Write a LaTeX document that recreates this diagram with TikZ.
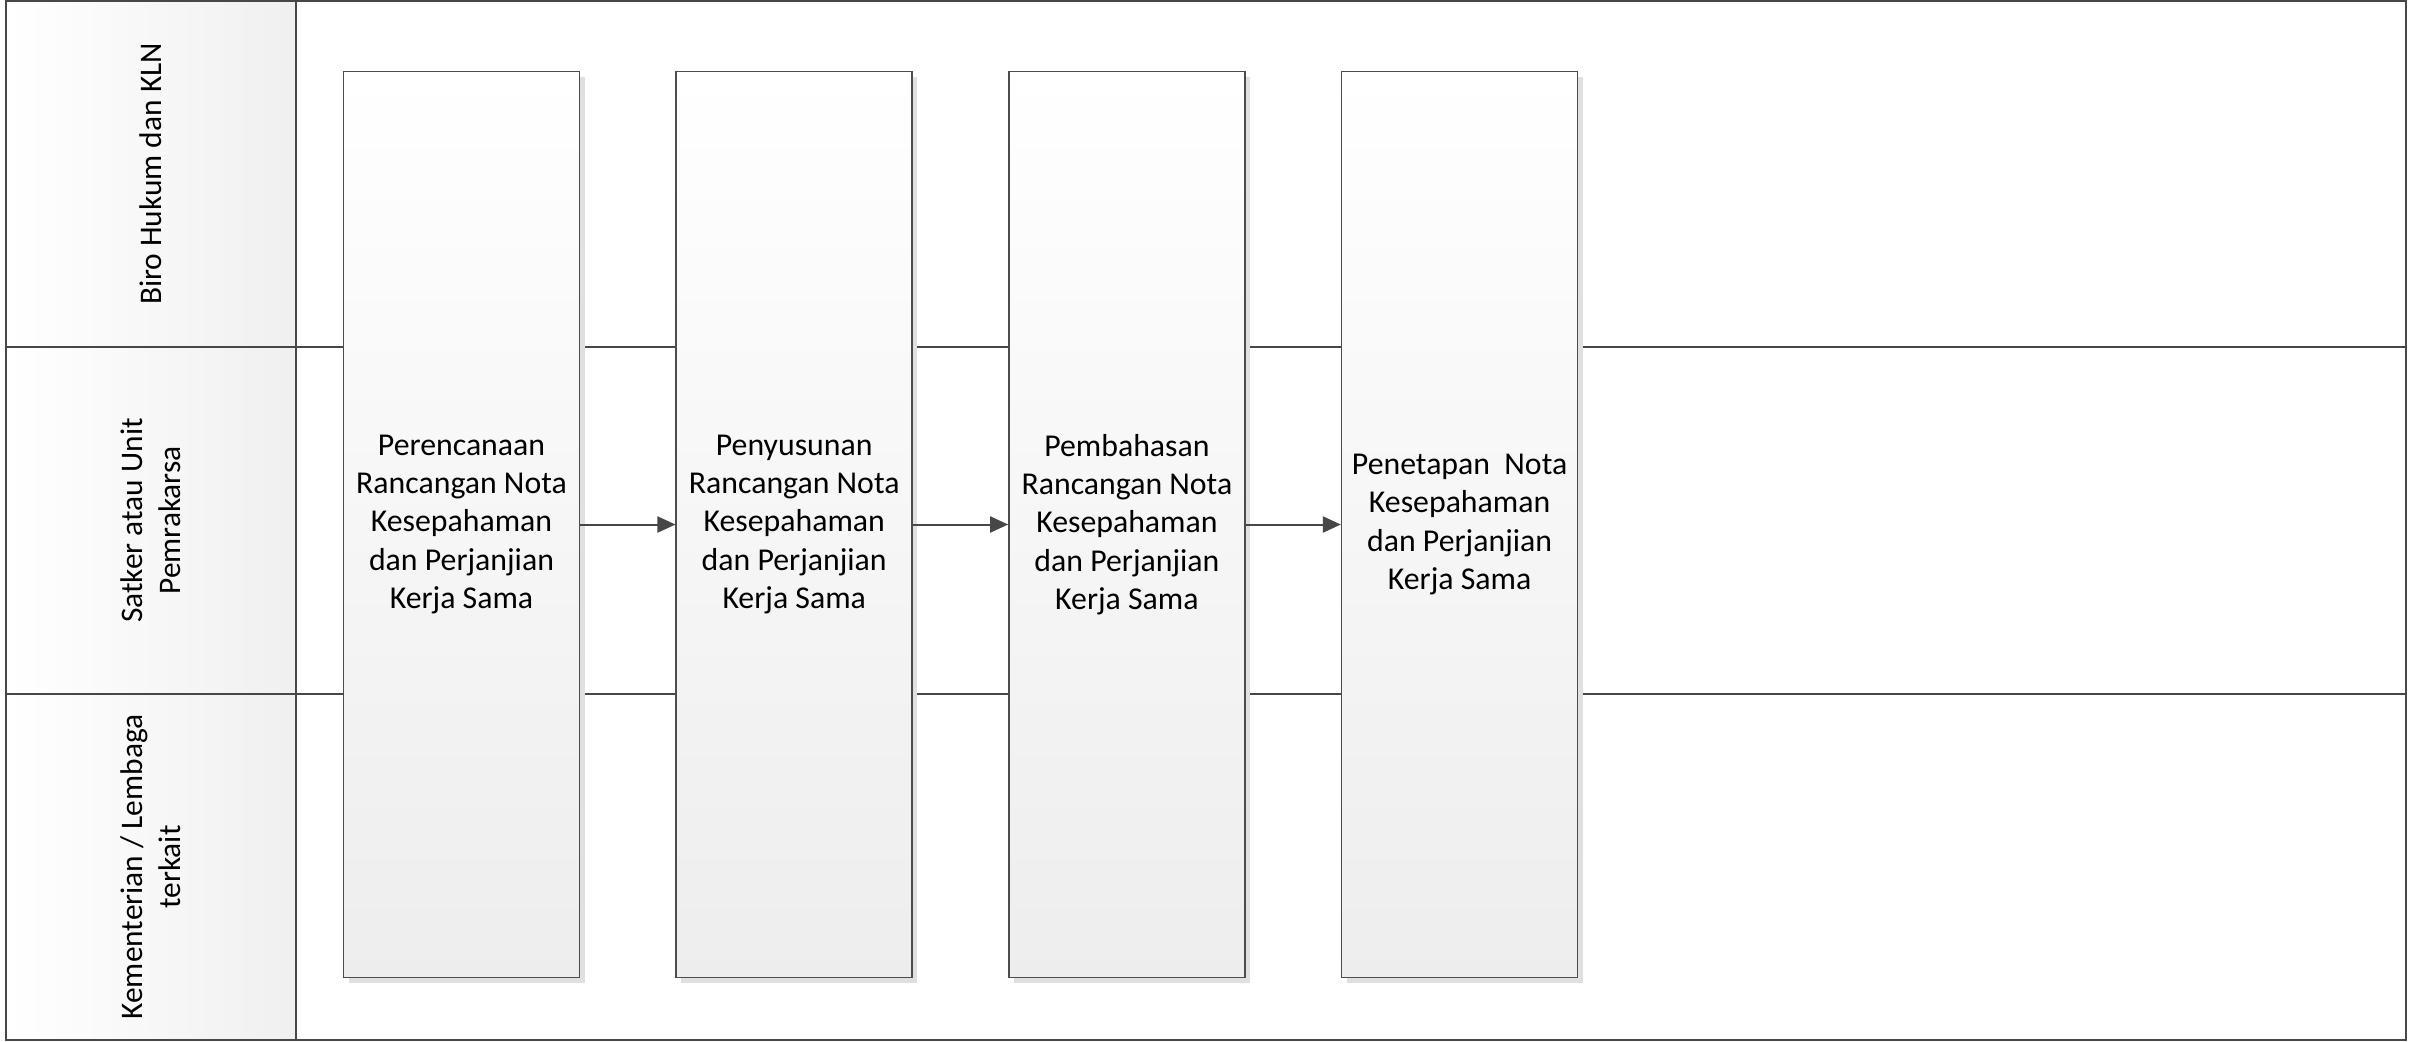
\documentclass[tikz,border=0pt]{standalone}
\usepackage{fontspec}
\setmainfont{Carlito}
\usetikzlibrary{arrows.meta,positioning,shadows}

\begin{document}
\begin{tikzpicture}[
    x=0.5pt, y=-0.5pt,
    node distance=47.6pt,
    >={Triangle[length=9pt,width=8pt]},
    laneline/.style={draw=black!72, line width=1pt},
    flowline/.style={->, line width=1pt, draw=black!72, fill=black!72},
    headshade/.style={left color=white, right color=black!6},
    headtext/.style={
      rotate=90,
      align=center,
      font=\fontsize{15.7}{19.2}\selectfont
    },
    stepbox/.style={
      draw=black!70,
      line width=0.75pt,
      top color=white,
      bottom color=black!7,
      align=center,
      minimum width=118pt,
      minimum height=453pt,
      inner sep=2pt,
      font=\fontsize{15.9}{19.2}\selectfont,
      drop shadow={shadow xshift=2.5pt, shadow yshift=-2.5pt, fill=black!12, opacity=1}
    }
  ]
    \useasboundingbox (0,0) rectangle (2409,1041);

    % lanes
    \shade[headshade] (6,1) rectangle (296,347);
    \shade[headshade] (6,347) rectangle (296,694);
    \shade[headshade] (6,694) rectangle (296,1040);
    \node[headtext] (hdrbiro) at (151,174) {Biro Hukum dan KLN};
    \node[headtext] (hdrsatker) at (151,520.5) {Satker atau Unit\\Pemrakarsa};
    \node[headtext] (hdrkl) at (151,867) {Kementerian / Lembaga\\terkait};
    \draw[laneline] (6,1) rectangle (2406,1040);
    \draw[laneline] (296,1) -- (296,1040);
    \draw[laneline] (6,347) -- (2406,347);
    \draw[laneline] (6,694) -- (2406,694);

    % steps
    \node[stepbox] (plan) at (461.5,524.5) {Perencanaan\\Rancangan Nota\\Kesepahaman\\dan Perjanjian\\Kerja Sama};
    \node[stepbox, right=of plan] (draft) {Penyusunan\\Rancangan Nota\\Kesepahaman\\dan Perjanjian\\Kerja Sama};
    \node[stepbox, right=of draft] (discuss) {Pembahasan\\Rancangan Nota\\Kesepahaman\\dan Perjanjian\\Kerja Sama};
    \node[stepbox, right=of discuss] (settle) {Penetapan~ Nota\\Kesepahaman\\dan Perjanjian\\Kerja Sama};

    \draw[flowline] (plan) -- (draft);
    \draw[flowline] (draft) -- (discuss);
    \draw[flowline] (discuss) -- (settle);
  \end{tikzpicture}
\end{document}
